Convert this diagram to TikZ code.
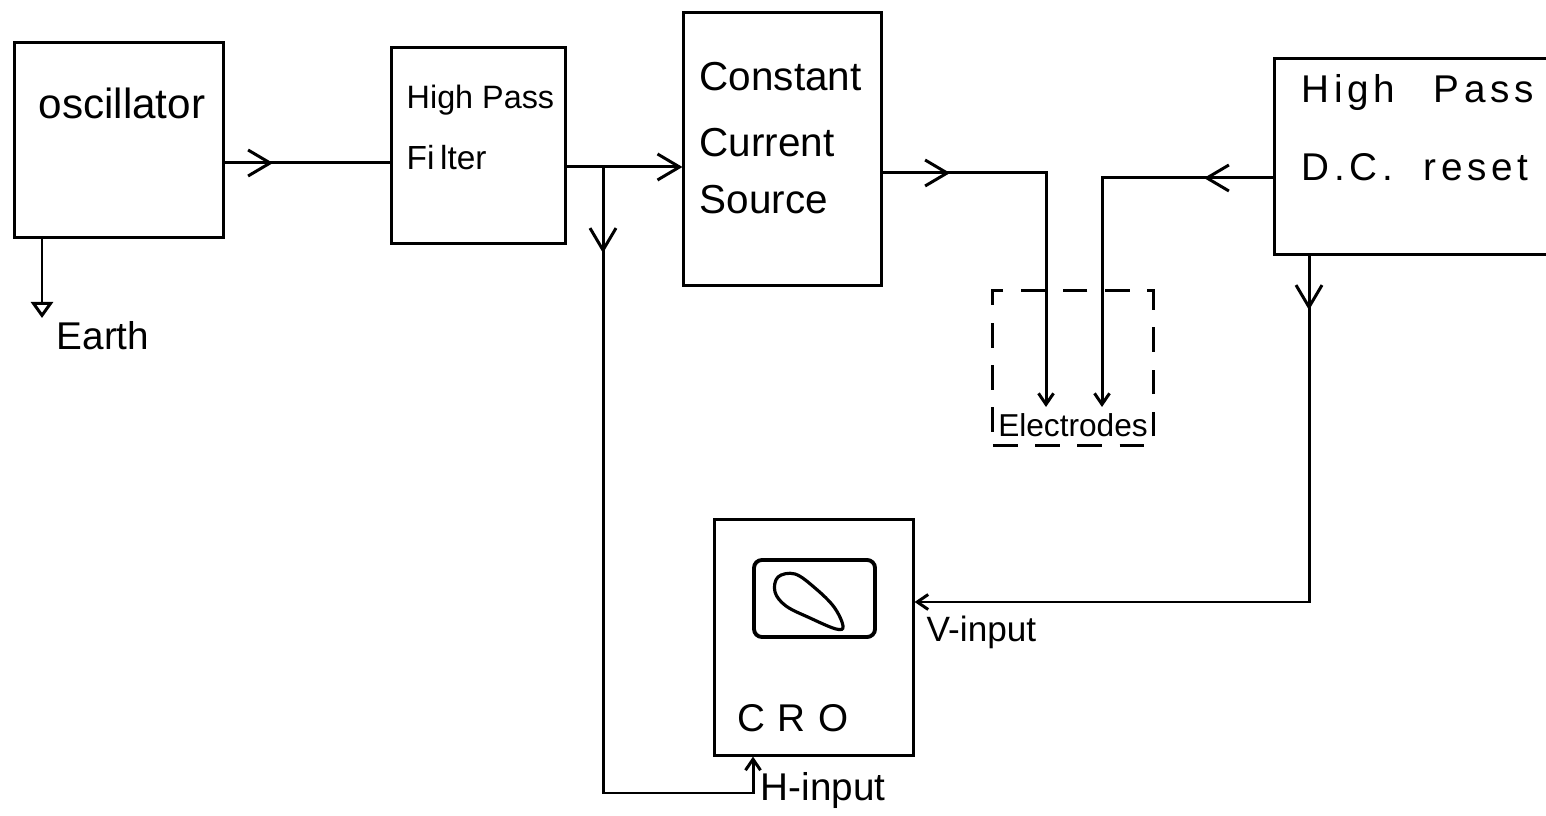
\documentclass[tikz,border=0pt]{standalone}
\usepackage{fontspec}
\setmainfont{Liberation Sans}
\usetikzlibrary{arrows.meta,decorations.markings}

\tikzset{
  bigbarb/.tip={Straight Barb[length=2.2mm,width=2.6mm]},
  smallbarb/.tip={Straight Barb[length=1.1mm,width=1.5mm]},
  block/.style={draw, line width=0.85pt, inner sep=0pt},
  wire/.style={line width=0.85pt},
  midarr/.style={postaction={decorate},
    decoration={markings, mark=at position #1 with {\arrow{bigbarb}}}},
  txt/.style={inner sep=0pt, font=\fontsize{#1}{#1}\selectfont},
  txt/.default=11
}

\begin{document}
\begin{tikzpicture}[x=0.01cm, y=-0.01cm]
  \useasboundingbox (0,0) rectangle (1546,816);

  % blocks
  \node[block, minimum width=2.08cm, minimum height=1.94cm] (osc) at (119,140) {};
  \node[block, minimum width=1.73cm, minimum height=1.95cm] (hpf) at (478.5,145.5) {};
  \node[block, minimum width=1.97cm, minimum height=2.72cm] (ccs) at (782.5,149) {};
  \node[inner sep=0pt, minimum width=2.71cm, minimum height=1.95cm] (hdc) at (1410.5,156.5) {};
  \draw[line width=0.85pt] (hdc.north east) -- (hdc.north west) -- (hdc.south west) -- (hdc.south east);
  \node[block, minimum width=1.98cm, minimum height=2.35cm] (cro) at (814,637.5) {};
  \node[draw, line width=1.1pt, rounded corners=0.8mm, minimum width=1.21cm, minimum height=0.77cm] (scr) at (814.5,598.5) {};
  \draw[line width=0.9pt] plot[smooth cycle, tension=0.6] coordinates
    {(778,577) (795,574) (815,588) (834,607) (843,626) (836,629) (810,618) (786,606) (775,592)};
  \node[draw, line width=0.85pt, dash pattern=on 7pt off 5pt, inner sep=0pt,
    minimum width=1.6cm, minimum height=1.54cm] (elec) at (1073,368) {};

  % texts
  \node[txt=12] (osctxt) at (122,103) {oscillator};
  \node[txt=9.2, anchor=west] (hpftxta) at (406,100) {High Pass};
  \node[txt=9.5, anchor=west] (hpftxtb) at (406,158) {Fi\,lter};
  \node[txt=11.5, anchor=west] (ccstxta) at (699,77) {Constant};
  \node[txt=11.5, anchor=west] (ccstxtb) at (699,143) {Current};
  \node[txt=11.5, anchor=west] (ccstxtc) at (699,200) {Source};
  \node[txt=11, anchor=west] (hdctxta) at (1301,93) {\addfontfeatures{LetterSpace=12}High\quad Pass};
  \node[txt=11, anchor=west] (hdctxtb) at (1301,167) {\addfontfeatures{LetterSpace=12}D.C.\ \ reset};
  \node[txt=9] (electxt) at (1073,425) {Electrodes};
  \node[txt=11] (crotxt) at (793,718) {C\,\,R\,\,O};
  \node[txt=10, anchor=west] (vintxt) at (926,632) {V-input};
  \node[txt=11, anchor=west] (hintxt) at (760,790) {H-input};
  \node[txt=11, anchor=west] (gndtxt) at (56,336) {Earth};

  % connections
  \coordinate (o1) at (223,163);
  \draw[wire, midarr=0.5cm] (o1) -- (o1 -| hpf.west);
  \coordinate (h1) at (565,167);
  \draw[wire, -{bigbarb}] (h1) -- (h1 -| ccs.west);
  \coordinate (br) at (603,167);
  \coordinate (hin) at (753,793);
  \draw[wire, midarr=0.86cm, -{smallbarb}] (br) |- (hin) -- (hin |- cro.south);
  \coordinate (c1) at (881,173);
  \coordinate (e1) at (1046,407);
  \draw[wire, midarr=0.69cm, -{smallbarb}] (c1) -| (e1);
  \coordinate (d1) at (1275,178);
  \coordinate (e2) at (1102,407);
  \draw[wire, midarr=0.71cm, -{smallbarb}] (d1) -| (e2);
  \coordinate (d2) at (1309,254);
  \coordinate (vin) at (1309,602);
  \draw[wire, midarr=0.56cm, -{smallbarb}] (d2) -- (vin) -- (vin -| cro.east);
  \coordinate (g1) at (42,237);
  \coordinate (gnd) at (42,318);
  \draw[wire, -{Triangle[open,length=1.6mm,width=2.2mm]}] (g1) -- (gnd);

\end{tikzpicture}
\end{document}
